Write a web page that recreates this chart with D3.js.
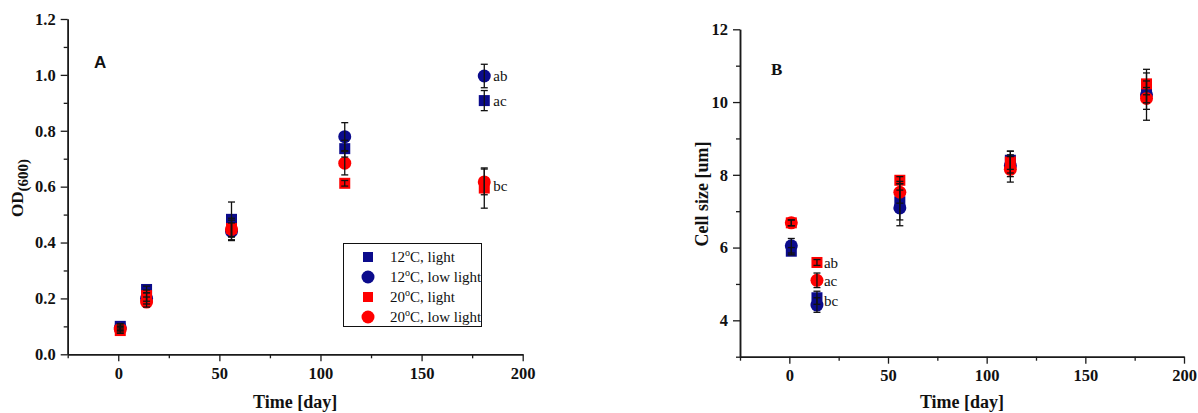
<!DOCTYPE html>
<html><head><meta charset="utf-8">
<script src="https://cdn.jsdelivr.net/npm/d3@7"></script>
<style>
html,body{margin:0;padding:0;background:#fff;}
svg{display:block;}
text{font-family:"Liberation Serif","Times New Roman",serif;}
</style></head>
<body>
<svg id="chart" width="1198" height="413"></svg>
<script>
// ---------- DATA ----------
const days = [1, 14, 56, 112, 181];
const seriesNames = ["12°C, light", "12°C, low light", "20°C, light", "20°C, low light"];
const seriesColors = ["#0b0b8c", "#0b0b8c", "#ff0000", "#ff0000"];
const seriesShapes = ["square", "circle", "square", "circle"];

// Panel A: OD(600)
const odC12Light    = [0.100, 0.232, 0.483, 0.736, 0.908];
const odC12LowLight = [0.095, 0.200, 0.440, 0.779, 0.996];
const odC20Light    = [0.085, 0.210, 0.450, 0.612, 0.595];
const odC20LowLight = [0.090, 0.187, 0.447, 0.684, 0.617];
const odErrC12Light    = [0.010, 0.012, 0.062, 0.030, 0.036];
const odErrC12LowLight = [0.010, 0.020, 0.030, 0.050, 0.042];
const odErrC20Light    = [0.010, 0.020, 0.030, 0.010, 0.072];
const odErrC20LowLight = [0.010, 0.018, 0.040, 0.042, 0.046];

// Panel B: cell size
const sizeC12Light    = [5.90, 4.62, 7.26, 8.40, 10.28];
const sizeC12LowLight = [6.05, 4.42, 7.09, 8.25, 10.20];
const sizeC20Light    = [6.68, 5.59, 7.85, 8.35, 10.50];
const sizeC20LowLight = [6.68, 5.10, 7.52, 8.15, 10.10];
const sizeErrC12Light    = [0.10, 0.18, 0.50, 0.25, 0.30];
const sizeErrC12LowLight = [0.20, 0.20, 0.49, 0.30, 0.70];
const sizeErrC20Light    = [0.08, 0.08, 0.10, 0.30, 0.30];
const sizeErrC20LowLight = [0.08, 0.20, 0.30, 0.35, 0.30];

const xTicksMajor = [0, 50, 100, 150, 200];
const xTicksMinor = [-25, 25, 75, 125, 175];
const odTicksMajor = [0.0, 0.2, 0.4, 0.6, 0.8, 1.0, 1.2];
const odTicksMinor = [0.1, 0.3, 0.5, 0.7, 0.9, 1.1];
const sizeTicksMajor = [4, 6, 8, 10, 12];
const sizeTicksMinor = [3, 5, 7, 9, 11];

const odLetters = [
  {x: 181, y: 0.996, t: "ab"},
  {x: 181, y: 0.908, t: "ac"},
  {x: 181, y: 0.605, t: "bc"}
];
const sizeLetters = [
  {x: 14, y: 5.59, t: "ab"},
  {x: 14, y: 5.10, t: "ac"},
  {x: 14, y: 4.55, t: "bc"}
];

// ---------- DRAW ----------
const svg = d3.select("#chart");
const AX = "#1a1a1a";

function panel(opt) {
  const g = svg.append("g");
  const x = d3.scaleLinear().domain([-25, 200]).range([opt.left, opt.right]);
  const y = d3.scaleLinear().domain(opt.yDomain).range([opt.bottom, opt.top]);

  const xAxis = d3.axisBottom(x).tickValues(opt.xMajor).tickSize(7).tickSizeOuter(0).tickPadding(6)
    .tickFormat(d3.format("d"));
  const xAxisMinor = d3.axisBottom(x).tickValues(xTicksMinor).tickSize(4).tickSizeOuter(0).tickFormat("");
  const yAxis = d3.axisLeft(y).tickValues(opt.yMajor).tickSize(7).tickSizeOuter(0).tickPadding(5)
    .tickFormat(opt.yFormat);
  const yAxisMinor = d3.axisLeft(y).tickValues(opt.yMinor).tickSize(4).tickSizeOuter(0).tickFormat("");

  [[xAxisMinor, "x"], [xAxis, "x"], [yAxisMinor, "y"], [yAxis, "y"]].forEach(([ax, k]) => {
    const ag = g.append("g")
      .attr("transform", k === "x" ? `translate(0,${opt.bottom})` : `translate(${opt.left},0)`)
      .call(ax);
    ag.selectAll("path").attr("stroke", AX).attr("stroke-width", 1.5);
    ag.selectAll("line").attr("stroke", AX).attr("stroke-width", 1.3);
    ag.selectAll("text").attr("fill", "#111").style("font-family", '"Liberation Serif",serif')
      .style("font-size", "16.5px").style("font-weight", "bold");
  });

  opt.series.forEach((vals, si) => {
    const col = seriesColors[si];
    vals.forEach((v, i) => {
      const cx = x(days[i]), cy = y(v);
      if (seriesShapes[si] === "square") {
        g.append("rect").attr("x", cx - 5.5).attr("y", cy - 5.5).attr("width", 11).attr("height", 11)
          .attr("fill", col);
      } else {
        g.append("circle").attr("cx", cx).attr("cy", cy).attr("r", 6.5).attr("fill", col);
      }
    });
  });
  opt.series.forEach((vals, si) => {
    vals.forEach((v, i) => {
      const e = opt.errors[si][i];
      const cx = x(days[i]);
      const y1 = y(v + e), y2 = y(v - e);
      g.append("line").attr("x1", cx).attr("x2", cx).attr("y1", y1).attr("y2", y2)
        .attr("stroke", "#111").attr("stroke-width", 1.3);
      [y1, y2].forEach(yy => g.append("line").attr("x1", cx - 3.5).attr("x2", cx + 3.5)
        .attr("y1", yy).attr("y2", yy).attr("stroke", "#111").attr("stroke-width", 1.3));
    });
  });

  opt.letters.forEach(l => {
    g.append("text").attr("x", x(l.x) + opt.letterGap).attr("y", y(l.y)).attr("dy", "0.35em")
      .style("font-size", "15px").attr("fill", "#111").text(l.t);
  });

  g.append("text").attr("x", (opt.left + opt.right) / 2).attr("y", 408).attr("text-anchor", "middle")
    .style("font-size", "18px").style("font-weight", "bold").attr("fill", "#111").text("Time [day]");
  return {g, x, y};
}

// Panel A
const A = panel({
  left: 67.7, right: 522.7, top: 19, bottom: 354.3,
  yDomain: [0, 1.2], yMajor: odTicksMajor, yMinor: odTicksMinor, yFormat: d3.format(".1f"),
  xMajor: xTicksMajor,
  series: [odC12Light, odC12LowLight, odC20Light, odC20LowLight],
  errors: [odErrC12Light, odErrC12LowLight, odErrC20Light, odErrC20LowLight],
  letters: odLetters, letterGap: 9
});
A.g.append("text").attr("x", 94).attr("y", 68).style("font-family", '"Liberation Sans",Arial,sans-serif')
  .style("font-size", "17px").style("font-weight", "bold").attr("fill", "#111").text("A");
const odLab = A.g.append("text").attr("transform", "translate(23,188) rotate(-90)").attr("text-anchor", "middle")
  .style("font-size", "17px").style("font-weight", "bold").attr("fill", "#111");
odLab.append("tspan").text("OD");
odLab.append("tspan").attr("dy", 5).style("font-size", "15px").text("(600)");

// legend
const leg = A.g.append("g");
leg.append("rect").attr("x", 343.5).attr("y", 243.5).attr("width", 138).attr("height", 83)
  .attr("fill", "#fff").attr("stroke", "#111").attr("stroke-width", 1);
seriesNames.forEach((n, i) => {
  const yy = 257 + i * 20;
  if (seriesShapes[i] === "square") {
    leg.append("rect").attr("x", 368 - 5).attr("y", yy - 5).attr("width", 10).attr("height", 10).attr("fill", seriesColors[i]);
  } else {
    leg.append("circle").attr("cx", 368).attr("cy", yy).attr("r", 6.5).attr("fill", seriesColors[i]);
  }
  const parts = n.split("°");
  const t = leg.append("text").attr("x", 390).attr("y", yy + 5).style("font-size", "15px").attr("fill", "#111");
  t.append("tspan").text(parts[0]);
  t.append("tspan").attr("dy", -6).style("font-size", "10px").text("o");
  t.append("tspan").attr("dy", 6).text(parts[1]);
});

// Panel B
const B = panel({
  left: 740, right: 1184, top: 29.3, bottom: 356.7,
  yDomain: [3, 12], yMajor: sizeTicksMajor, yMinor: sizeTicksMinor, yFormat: d3.format("d"),
  xMajor: xTicksMajor,
  series: [sizeC12Light, sizeC12LowLight, sizeC20Light, sizeC20LowLight],
  errors: [sizeErrC12Light, sizeErrC12LowLight, sizeErrC20Light, sizeErrC20LowLight],
  letters: sizeLetters, letterGap: 7
});
B.g.append("text").attr("x", 771).attr("y", 75)
  .style("font-size", "17px").style("font-weight", "bold").attr("fill", "#111").text("B");
B.g.append("text").attr("transform", "translate(708,194) rotate(-90)").attr("text-anchor", "middle")
  .style("font-size", "18px").style("font-weight", "bold").attr("fill", "#111").text("Cell size [um]");
</script>
</body></html>
